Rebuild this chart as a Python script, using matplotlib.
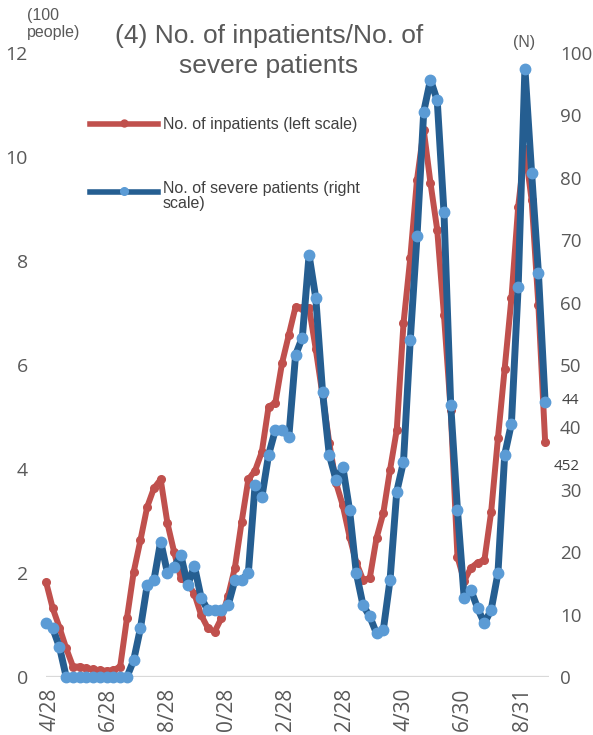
import numpy as np
import pandas as pd
import matplotlib
matplotlib.use('Agg')
import matplotlib.pyplot as plt
import matplotlib.transforms as mtransforms
from matplotlib.lines import Line2D

# --- dados (semanais a partir de 28/04/2020) ---
start_date = '2020-04-28'
inpatients = [1.83, 1.32, 0.95, 0.55, 0.2, 0.2, 0.17, 0.15, 0.13, 0.12,
              0.13, 0.2, 1.13, 2.02, 2.63, 3.27, 3.63, 3.8, 2.96, 2.4,
              1.9, 1.8, 1.6, 1.19, 0.94, 0.87, 1.13, 1.56, 2.1, 2.98,
              3.8, 3.97, 4.33, 5.2, 5.27, 6.04, 6.58, 7.12, 7.1, 7.1,
              6.3, 5.42, 4.5, 3.73, 3.3, 2.7, 2.2, 1.87, 1.9, 2.67,
              3.15, 3.98, 4.75, 6.8, 8.05, 9.56, 10.52, 9.5, 8.6, 6.96,
              5.13, 2.31, 1.85, 2.1, 2.2, 2.25, 3.18, 4.59, 5.93, 7.28,
              9.04, 10.16, 9.17, 7.15, 4.52]
severe = [8.7, 7.8, 4.8, 0, 0, 0, 0, 0, 0, 0,
          0, 0, 0, 2.7, 7.8, 14.7, 15.5, 21.7, 16.7, 17.7,
          19.5, 14.7, 17.8, 12.7, 10.7, 10.7, 10.7, 11.5, 15.5, 15.5,
          16.7, 30.8, 28.8, 35.6, 39.6, 39.6, 38.5, 51.6, 54.4, 67.6,
          60.7, 45.7, 35.6, 31.6, 33.7, 26.8, 16.7, 11.5, 9.7, 7.0,
          7.5, 15.5, 29.7, 34.5, 54, 70.6, 90.6, 95.7, 92.4, 74.5,
          43.6, 26.8, 12.6, 13.9, 11, 8.6, 10.8, 16.6, 35.6, 40.6,
          62.5, 97.5, 80.7, 64.8, 44]
tick_dates = ['2020-04-28', '2020-06-28', '2020-08-28', '2020-10-28', '2020-12-28',
              '2021-02-28', '2021-04-30', '2021-06-30', '2021-08-31']
# rotulos como aparecem no grafico original (10/28 e 12/28 aparecem cortados)
tick_labels = ['4/28', '6/28', '8/28', '0/28', '2/28', '2/28', '4/30', '6/30', '8/31']
left_ticks = [0, 2, 4, 6, 8, 10, 12]
right_ticks = [0, 10, 20, 30, 40, 50, 60, 70, 80, 90, 100]

RED = '#C0504D'
BLUE = '#255E91'
BLUE_MK = '#5B9BD5'
GRAY = '#595959'
TICK_FONT = ['Open Sans', 'DejaVu Sans']
TXT_FONT = ['Liberation Sans', 'DejaVu Sans']

W, H = 593, 735


def fx(px):
    return px / W


def fy(py):
    return 1 - py / H


dates = pd.date_range(start_date, periods=len(inpatients), freq='7D')

fig = plt.figure(figsize=(W / 100, H / 100), dpi=100)
ax1 = fig.add_axes([fx(46), fy(677), (549 - 46) / W, (677 - 53) / H])
ax2 = ax1.twinx()

ax1.axhline(0, color='#D9D9D9', lw=1.6, zorder=0)
ax1.plot(dates, inpatients, color=RED, lw=4.3, marker='o', ms=5.5,
         solid_joinstyle='round', solid_capstyle='round', clip_on=False)
ax2.plot(dates, severe, color=BLUE, lw=5, marker='o', ms=7.5,
         mfc=BLUE_MK, mec=BLUE_MK, solid_joinstyle='round',
         solid_capstyle='round', clip_on=False)

ax1.set_xlim(dates[0], dates[0] + pd.Timedelta(days=522))
ax1.set_ylim(0, 12)
ax2.set_ylim(0, 100)

for ax in (ax1, ax2):
    for s in ax.spines.values():
        s.set_visible(False)

ax1.set_yticks(left_ticks)
ax1.set_yticklabels([str(v) for v in left_ticks], fontfamily=TICK_FONT, fontsize=14, color=GRAY)
ax2.set_yticks(right_ticks)
ax2.set_yticklabels([str(v) for v in right_ticks], fontfamily=TICK_FONT, fontsize=13.5, color=GRAY)
ax1.tick_params(axis='y', length=0, pad=13)
ax2.tick_params(axis='y', length=0, pad=8)

ax1.set_xticks(pd.to_datetime(tick_dates))
ax1.set_xticklabels(tick_labels, rotation=90, va='top', ha='center',
                    fontfamily=TICK_FONT, fontsize=15, color=GRAY)
ax1.tick_params(axis='x', length=0, pad=8)
offset = mtransforms.ScaledTranslation(4 / 100, 0, fig.dpi_scale_trans)
for lab in ax1.get_xticklabels():
    lab.set_transform(lab.get_transform() + offset)

# titulo e unidades
fig.text(fx(269), fy(51), '(4) No. of inpatients/No. of\nsevere patients',
         ha='center', va='center', fontsize=19, color=GRAY,
         fontfamily=TXT_FONT, linespacing=1.3)
fig.text(fx(27), fy(24), '(100\npeople)', ha='left', va='center',
         fontsize=11.5, color=GRAY, fontfamily=TXT_FONT, linespacing=1.15)
fig.text(fx(524), fy(42), '(N)', ha='center', va='center',
         fontsize=11.5, color=GRAY, fontfamily=TXT_FONT)

# legenda manual
fig.add_artist(Line2D([fx(90), fx(158)], [fy(124), fy(124)], color=RED, lw=4,
                      transform=fig.transFigure))
fig.add_artist(Line2D([fx(124)], [fy(123)], color=RED, marker='o', ms=5,
                      transform=fig.transFigure))
fig.text(fx(163), fy(125), 'No. of inpatients (left scale)', ha='left', va='center',
         fontsize=11.5, color='#404040', fontfamily=TXT_FONT)
fig.add_artist(Line2D([fx(90), fx(158)], [fy(192), fy(192)], color=BLUE, lw=4,
                      transform=fig.transFigure))
fig.add_artist(Line2D([fx(124)], [fy(191)], color=BLUE_MK, marker='o', ms=5.5,
                      transform=fig.transFigure))
fig.text(fx(163), fy(196), 'No. of severe patients (right\nscale)', ha='left', va='center',
         fontsize=11.5, color='#404040', fontfamily=TXT_FONT, linespacing=1.05)

# rotulos dos ultimos valores
fig.text(fx(570), fy(401), '44', ha='center', va='center', fontsize=11,
         color='#404040', fontfamily=TICK_FONT)
fig.text(fx(567), fy(466), '452', ha='center', va='center', fontsize=11,
         color='#404040', fontfamily=TICK_FONT)

fig.savefig('out.png', dpi=100)
